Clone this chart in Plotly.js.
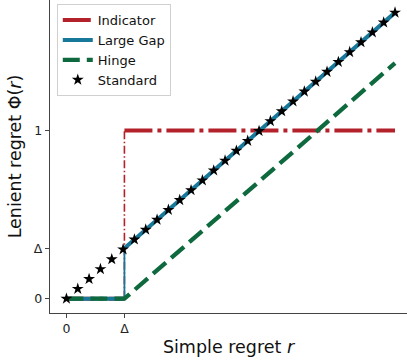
<!DOCTYPE html>
<html>
<head>
<meta charset="utf-8">
<script src="https://cdn.plot.ly/plotly-3.0.1.min.js"></script>
<style>html,body{margin:0;padding:0;background:#fff;}#chart{width:407px;height:364px;}</style>
</head>
<body>
<div id="chart"></div>
<script>
// Gap parameter shown as "Δ" on the axes
const DELTA = 0.3;
const R_MAX = 1.7;

// Indicator: 0 below Δ, 1 from Δ onwards
const indicatorX = [0, DELTA, null, DELTA, R_MAX];
const indicatorY = [0, 0, null, 1, 1];
const indicatorStepX = [DELTA, DELTA];
const indicatorStepY = [0, 1];

// Large Gap: 0 below Δ, r from Δ onwards
const largeGapX = [0, DELTA, null, DELTA, R_MAX];
const largeGapY = [0, 0, null, DELTA, R_MAX];
const largeGapStepX = [DELTA, DELTA];
const largeGapStepY = [0, DELTA];

// Hinge: max(0, r - Δ)
const hingeX = [0, DELTA, R_MAX];
const hingeY = [0, 0, 1.4];

// Standard: Φ(r) = r, sampled points
const standardX = [0, 0.0586, 0.1172, 0.1759, 0.2345, 0.2931, 0.3517, 0.4103, 0.4690, 0.5276,
  0.5862, 0.6448, 0.7034, 0.7621, 0.8207, 0.8793, 0.9379, 0.9966, 1.0552, 1.1138,
  1.1724, 1.2310, 1.2897, 1.3483, 1.4069, 1.4655, 1.5241, 1.5828, 1.6414, 1.7];
const standardY = [0, 0.0586, 0.1172, 0.1759, 0.2345, 0.2931, 0.3517, 0.4103, 0.4690, 0.5276,
  0.5862, 0.6448, 0.7034, 0.7621, 0.8207, 0.8793, 0.9379, 0.9966, 1.0552, 1.1138,
  1.1724, 1.2310, 1.2897, 1.3483, 1.4069, 1.4655, 1.5241, 1.5828, 1.6414, 1.7];

const xTickVals = [0, DELTA];
const xTickText = ["0", "Δ"];
const yTickVals = [0, DELTA, 1];
const yTickText = ["0", "Δ", "1"];

const RED = "#B3212B", TEAL = "#17789A", GREEN = "#0E6A3E";

const traces = [
  {x: indicatorStepX, y: indicatorStepY, mode: "lines", showlegend: false, hoverinfo: "skip",
   line: {color: RED, width: 1.6, dash: "8px,2.5px,1.5px,2.5px"}},
  {x: indicatorX, y: indicatorY, mode: "lines", name: "Indicator",
   line: {color: RED, width: 4, dash: "28px,5px,4px,5px"}},
  {x: largeGapStepX, y: largeGapStepY, mode: "lines", showlegend: false, hoverinfo: "skip",
   line: {color: TEAL, width: 1.8}},
  {x: largeGapX, y: largeGapY, mode: "lines", name: "Large Gap",
   line: {color: TEAL, width: 4}},
  {x: hingeX, y: hingeY, mode: "lines", name: "Hinge",
   line: {color: GREEN, width: 4.3, dash: "17px,7px"}},
  {x: standardX, y: standardY, mode: "markers", name: "Standard",
   marker: {symbol: "star", size: 9, color: "#000"}}
];

const layout = {
  width: 407, height: 364,
  margin: {l: 50, r: 0, t: 0, b: 51},
  paper_bgcolor: "#fff", plot_bgcolor: "#fff",
  font: {family: "DejaVu Sans", size: 12.5, color: "#222"},
  xaxis: {
    range: [-0.085, 1.762], showgrid: false, zeroline: false,
    showline: true, linecolor: "#444", linewidth: 1.2,
    ticks: "outside", ticklen: 4, tickcolor: "#444", tickwidth: 1,
    tickvals: xTickVals, ticktext: xTickText, tickfont: {size: 12.5},
    title: {text: "Simple regret <i>r</i>", font: {size: 17.5, color: "#111"}, standoff: 5}
  },
  yaxis: {
    range: [-0.085, 1.775], showgrid: false, zeroline: false,
    showline: true, linecolor: "#444", linewidth: 1.2,
    ticks: "outside", ticklen: 4, tickcolor: "#444", tickwidth: 1,
    tickvals: yTickVals, ticktext: yTickText, tickfont: {size: 12.5},
    title: {text: "Lenient regret Φ(<i>r</i>)", font: {size: 17.5, color: "#111"}, standoff: 7}
  },
  legend: {
    x: 0.019, y: 0.987, xanchor: "left", yanchor: "top",
    bgcolor: "rgba(255,255,255,0.85)", bordercolor: "#d0d0d0", borderwidth: 1,
    font: {size: 13, color: "#111"}
  },
  showlegend: true
};

Plotly.newPlot("chart", traces, layout, {displayModeBar: false, staticPlot: true});
</script>
</body>
</html>
